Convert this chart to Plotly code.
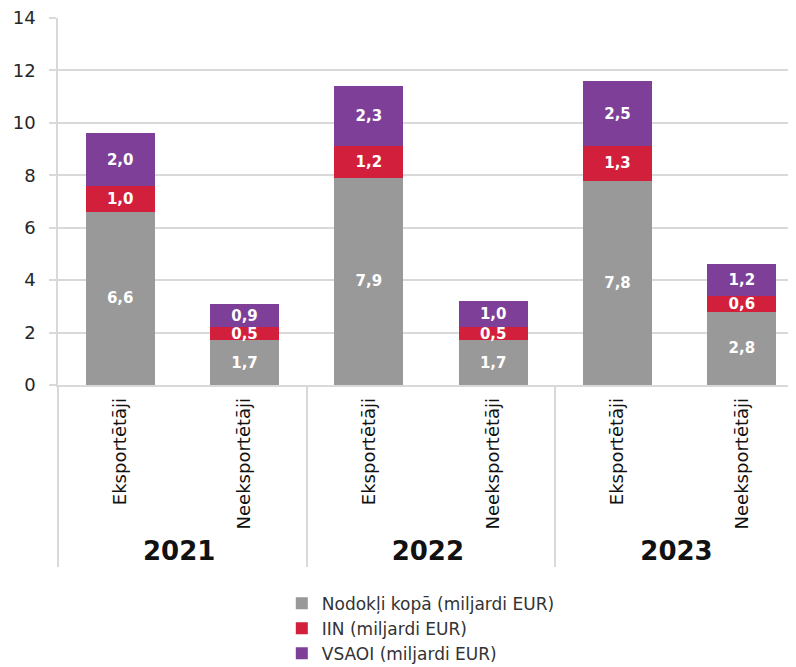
import plotly.graph_objects as go

year_labels = ["2021", "2022", "2023"]
group_labels = ["Eksportētāji", "Neeksportētāji"]
nodokli = [6.6, 1.7, 7.9, 1.7, 7.8, 2.8]
iin = [1.0, 0.5, 1.2, 0.5, 1.3, 0.6]
vsaoi = [2.0, 0.9, 2.3, 1.0, 2.5, 1.2]
y_ticks = [0, 2, 4, 6, 8, 10, 12, 14]

years = []
groups = []
for yl in year_labels:
    for gl in group_labels:
        years.append(f"<b><span style='font-size:26px'>{yl}</span></b>")
        groups.append(gl)

series = [
    ("Nodokļi kopā (miljardi EUR)", nodokli, "#999999"),
    ("IIN (miljardi EUR)", iin, "#d21f3c"),
    ("VSAOI (miljardi EUR)", vsaoi, "#7d3f98"),
]

fig = go.Figure()
for name, vals, color in series:
    fig.add_trace(go.Bar(
        x=[years, groups], y=vals, name=name,
        marker=dict(color=color, line=dict(width=0)),
        text=[f"{v:.1f}".replace(".", ",") for v in vals],
        textposition="inside", insidetextanchor="middle",
        textfont=dict(color="white", size=15, family="DejaVu Sans", weight="bold"),
        constraintext="none",
    ))

fig.update_layout(
    barmode="stack", bargap=0.445,
    width=796, height=667,
    margin=dict(l=50, r=0, t=10, b=290),
    plot_bgcolor="white", paper_bgcolor="white",
    font=dict(family="DejaVu Sans", color="#262626"),
    uniformtext=dict(minsize=13, mode="show"),
    legend=dict(orientation="v", x=0.30, xanchor="left", yref="container", y=0.134,
                yanchor="top", font=dict(size=17, color="#333333"), traceorder="normal",
                itemwidth=30, tracegroupgap=0),
)
fig.update_yaxes(range=[0, 14], tickvals=y_ticks, showgrid=True, gridcolor="#d9d9d9",
                 gridwidth=1.5, zeroline=False, tickfont=dict(size=18, color="#262626"),
                 ticks="outside", ticklen=7, tickcolor="#d9d9d9", tickwidth=1.5,
                 showline=True, linecolor="#d9d9d9", linewidth=1.5,
                 ticklabelstandoff=10, ticklabeloverflow="allow", automargin=False)
fig.update_xaxes(tickangle=-90, tickfont=dict(size=18, color="#111111"),
                 showdividers=True, dividercolor="#d9d9d9", dividerwidth=1.5,
                 showline=True, linecolor="#d9d9d9", linewidth=1.5, automargin=False,
                 ticklabelstandoff=4, ticklabeloverflow="allow")

fig.write_html("out.html")
